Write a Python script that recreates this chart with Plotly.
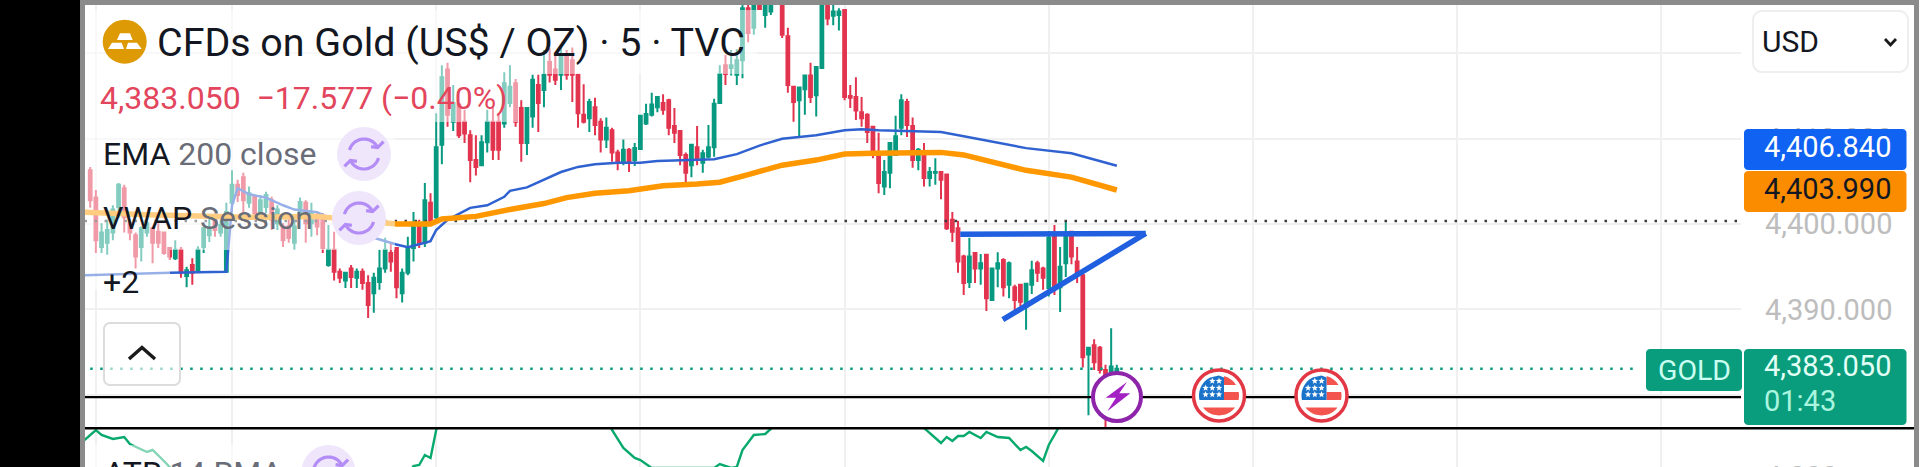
import math
import plotly.graph_objects as go

W, H = 1920, 467

candle_index = list(range(182))
open_prices = [
 4406.3,4403.1,4397.3,4397.8,4399.0,4402.0,4404.2,4400.1,4398.7,4397.3,4399.0,4399.5,4399.1,4399.0,4397.2,4396.0,4397.0,4393.9,4395.2,4394.4,
 4397.3,4398.7,4400.5,4399.0,4394.4,4402.5,4404.6,4405.5,4402.5,4403.2,4400.8,4402.0,4402.8,4400.1,4399.7,4399.7,4397.8,4401.3,4402.5,4400.1,
 4401.1,4400.8,4395.2,4397.0,4394.4,4393.4,4394.8,4393.7,4394.4,4393.1,4391.9,4393.2,4394.8,4396.6,4397.2,4391.9,4394.3,4397.2,4399.9,4397.8,
 4402.5,4400.8,4409.3,4418.1,4412.0,4414.0,4412.0,4410.4,4407.5,4406.9,4409.6,4412.0,4412.0,4411.8,4414.2,4416.5,4413.6,4409.5,4412.6,4416.3,
 4415.7,4419.0,4418.1,4417.5,4419.8,4419.2,4417.5,4412.8,4412.4,4413.7,4412.0,4409.9,4411.0,4408.4,4407.3,4408.7,4407.5,4408.8,4411.8,4412.8,
 4413.7,4414.2,4414.5,4411.5,4410.9,4408.1,4406.9,4409.0,4407.2,4407.9,4409.0,4414.2,4418.6,4418.3,4417.5,4419.2,4425.3,4423.0,4426.6,4424.5,
 4424.9,4427.0,4426.5,4422.0,4416.1,4414.5,4415.8,4417.4,4415.1,4418.3,4426.8,4424.4,4424.5,4425.1,4415.0,4414.9,4413.1,4412.8,4411.4,4408.1,
 4404.4,4406.0,4408.1,4411.3,4414.3,4411.5,4407.5,4408.4,4405.4,4406.0,4406.1,4405.8,4400.5,4399.5,4396.2,4393.2,4396.6,4394.8,4396.4,4391.1,
 4394.8,4395.8,4392.9,4392.6,4392.9,4390.3,4392.9,4395.4,4394.8,4392.5,4398.7,4392.6,4395.4,4399.1,4395.6,4394.0,4384.7,4385.8,4385.5,4382.9,
 4382.7,4382.7]
close_prices = [
 4402.8,4398.1,4399.0,4399.3,4401.7,4404.6,4400.8,4399.0,4396.2,4399.5,4400.1,4397.8,4397.8,4396.6,4396.2,4397.0,4394.3,4394.6,4394.3,4397.0,
 4399.5,4399.5,4399.3,4399.9,4401.4,4404.6,4403.4,4402.8,4403.6,4401.3,4402.8,4403.4,4400.5,4401.7,4398.1,4398.4,4399.7,4402.6,4400.1,4401.3,
 4399.7,4397.2,4397.0,4394.4,4393.7,4394.3,4393.8,4394.4,4393.1,4390.5,4393.7,4394.8,4397.0,4395.6,4392.6,4394.3,4397.3,4400.1,4397.8,4402.8,
 4400.2,4409.0,4417.2,4412.8,4414.2,4410.4,4410.6,4407.5,4406.7,4409.6,4412.0,4408.7,4408.7,4416.5,4416.1,4412.0,4409.5,4413.6,4416.9,4414.2,
 4417.5,4417.5,4416.9,4419.6,4417.5,4417.5,4413.0,4412.0,4414.3,4411.6,4409.9,4411.3,4408.4,4407.3,4408.7,4407.2,4408.9,4412.7,4412.9,4414.0,
 4414.9,4413.4,4411.3,4410.7,4408.1,4406.0,4409.3,4407.5,4408.3,4409.0,4414.1,4417.6,4417.6,4418.6,4419.2,4425.3,4422.4,4426.0,4425.2,4426.3,
 4426.3,4428.0,4422.2,4416.3,4414.3,4416.0,4417.4,4414.9,4418.4,4427.4,4424.1,4424.9,4424.9,4414.9,4414.8,4413.3,4412.4,4410.8,4408.1,4404.8,
 4406.1,4409.5,4410.3,4414.5,4411.6,4407.5,4408.7,4405.4,4406.1,4406.1,4405.2,4399.5,4399.1,4395.6,4393.1,4396.2,4394.8,4395.4,4391.3,4394.8,
 4395.4,4392.6,4395.4,4391.1,4390.9,4393.0,4394.6,4394.3,4393.7,4398.4,4392.5,4395.0,4399.0,4396.2,4394.3,4384.4,4385.5,4383.8,4382.9,4382.0,
 4383.3,4383.05]
high_prices = [
 4406.7,4404.0,4400.1,4400.5,4402.2,4404.8,4404.6,4400.5,4399.0,4399.7,4400.5,4399.7,4400.1,4399.1,4397.3,4398.1,4397.3,4395.0,4396.0,4397.4,
 4399.7,4400.8,4400.8,4400.5,4402.5,4406.3,4405.2,4406.0,4404.4,4403.4,4403.4,4403.8,4403.2,4402.2,4400.1,4400.7,4401.1,4403.1,4402.8,4402.5,
 4401.4,4401.3,4399.9,4399.1,4394.8,4394.4,4395.2,4394.8,4394.8,4394.0,4394.3,4397.0,4398.4,4397.8,4397.3,4394.8,4398.5,4401.4,4400.5,4404.8,
 4403.6,4413.0,4418.6,4418.9,4416.3,4414.2,4413.4,4411.0,4410.4,4410.4,4413.4,4413.7,4413.0,4417.8,4418.6,4417.0,4414.5,4413.6,4417.5,4417.5,
 4420.4,4420.6,4420.2,4420.7,4420.4,4420.7,4417.5,4416.4,4414.7,4414.8,4412.4,4412.5,4411.3,4408.7,4409.9,4408.9,4409.5,4412.8,4414.1,4415.4,
 4415.0,4415.2,4414.7,4413.6,4411.0,4408.4,4409.4,4411.5,4408.7,4411.6,4414.7,4418.6,4419.8,4420.4,4420.5,4426.8,4426.3,4426.6,4427.2,4426.8,
 4426.8,4428.6,4427.4,4423.0,4416.2,4416.1,4417.5,4418.9,4418.5,4428.6,4427.4,4426.8,4425.3,4425.2,4416.3,4417.2,4414.9,4413.0,4411.5,4410.7,
 4407.5,4409.5,4412.7,4415.2,4414.7,4412.5,4408.9,4409.5,4406.7,4407.7,4406.2,4405.9,4401.4,4400.4,4396.4,4398.4,4396.6,4396.5,4396.5,4394.8,
 4396.7,4396.0,4395.6,4392.9,4393.0,4393.1,4395.7,4395.7,4395.0,4399.2,4399.9,4397.3,4400.4,4399.2,4397.3,4394.6,4385.6,4386.5,4385.7,4383.5,
 4387.8,4383.5]
low_prices = [
 4401.9,4396.6,4396.6,4396.4,4398.1,4400.7,4399.0,4398.1,4394.8,4395.6,4398.5,4395.4,4397.2,4396.4,4395.8,4395.8,4393.7,4392.6,4392.9,4394.3,
 4396.6,4397.9,4398.5,4398.5,4394.3,4401.4,4402.6,4401.3,4401.9,4400.5,4400.5,4401.3,4399.3,4399.3,4397.3,4397.8,4397.0,4400.7,4397.8,4398.5,
 4398.7,4396.6,4395.0,4393.4,4393.1,4392.5,4392.5,4392.5,4392.3,4389.0,4389.6,4392.3,4394.3,4394.4,4391.3,4390.8,4394.0,4395.6,4397.2,4397.3,
 4400.1,4400.2,4407.0,4411.4,4410.9,4410.1,4409.5,4404.9,4405.7,4406.8,4408.4,4407.5,4407.5,4411.3,4413.7,4411.4,4407.3,4408.1,4411.3,4410.8,
 4413.7,4416.6,4416.3,4415.7,4416.9,4414.3,4411.3,4411.8,4410.8,4410.4,4408.4,4408.9,4407.3,4406.3,4406.9,4406.1,4406.8,4408.7,4411.6,4412.6,
 4413.1,4412.8,4410.4,4409.5,4406.9,4404.8,4405.5,4406.9,4406.0,4407.7,4407.9,4414.2,4416.3,4417.4,4416.3,4417.1,4421.3,4422.2,4425.1,4423.0,
 4424.5,4426.5,4421.8,4415.4,4412.0,4410.2,4412.8,4414.2,4412.6,4418.3,4423.3,4423.3,4422.7,4414.5,4413.6,4412.2,4411.4,4409.5,4407.7,4403.6,
 4403.4,4404.2,4408.1,4410.4,4410.2,4406.6,4406.3,4404.4,4404.4,4404.6,4402.9,4399.3,4397.9,4394.3,4391.7,4392.5,4393.1,4392.9,4389.8,4391.1,
 4392.6,4391.5,4391.3,4389.7,4390.3,4387.6,4391.8,4393.2,4392.3,4391.5,4391.7,4389.7,4393.8,4395.3,4393.1,4383.2,4377.6,4382.9,4382.5,4376.1,
 4382.0,4382.3]

ema_index = [-1,14,24,25,26,28,31,34,36,40,43,47,50,54,56,59,60,61,63,67,70,73,74,77,79,83,86,89,93,97,100,104,110,114,118,122,125,128,133,136,139,145,150,154,160,165,173,177,181]
ema_values = [4394.0,4394.3,4394.4,4402.2,4404.2,4403.5,4403.1,4402.2,4401.7,4401.4,4400.5,4399.3,4398.4,4397.6,4397.3,4397.8,4398.0,4399.3,4400.5,4401.9,4402.2,4403.2,4403.9,4404.3,4404.9,4406.1,4406.7,4407.0,4407.2,4407.2,4407.4,4407.5,4407.6,4408.2,4409.2,4410.0,4410.2,4410.4,4411.0,4411.1,4411.0,4410.9,4410.8,4410.3,4409.5,4408.9,4408.3,4407.6,4406.84]
vwap_index = [-1,10,28,40,54,60,62,68,74,80,84,89,95,101,107,111,116,122,128,133,138,145,150,154,160,165,173,177,181]
vwap_values = [4401.4,4401.1,4400.8,4400.9,4400.0,4400.0,4400.6,4400.9,4401.7,4402.4,4403.1,4403.6,4403.9,4404.5,4404.7,4404.9,4405.8,4406.9,4407.5,4408.2,4408.3,4408.4,4408.4,4408.1,4407.2,4406.3,4405.5,4404.8,4403.99]
atr_index = [-1,1,2,4,6,7,10,11,13,14,16,30,54,56,57,58,59,60,61,62,65,90,92,94,96,97,99,110,111,113,114,115,117,119,120,122,145,147,150,151,152,153,154,155,157,158,160,162,164,165,166,168,169,170,171,174,181]
atr_values = [5.52,5.92,5.72,5.56,5.64,5.36,5.04,5.12,4.68,4.44,4.12,3.6,3.6,4.12,4.48,4.52,4.92,4.8,5.92,6.52,7.12,7.12,5.92,5.2,4.8,4.72,4.4,4.4,4.56,4.4,4.44,5.12,5.72,5.76,5.96,6.52,6.52,6.0,5.4,5.64,5.48,5.68,5.68,5.84,5.6,5.84,5.64,5.6,5.12,5.24,5.08,4.68,5.32,5.72,6.12,6.52,6.52]

dotted_level = 4400.36
last_price = 4383.05
black_level = 4379.72
level_span = [-1, 292]
last_span = [0, 272]
flat_index = [153.4, 186.1]
flat_values = [4398.8, 4398.9]
rising_index = [160.9, 186.1]
rising_values = [4388.8, 4398.9]
grid_ticks = [1, 25, 61, 97, 133, 169, 205, 241, 277]
price_ticks = [4380, 4390, 4400, 4410, 4420]

X0, X1 = 85, 1741
x_range = [(X0 - 90.2) / 5.672, (X1 - 90.2) / 5.672]
TOP, PANE = 5, 428
y_range = [4426.26 - 0.1172 * PANE, 4426.26 - 0.1172 * TOP]

def fx(x): return x / W
def fy(y): return 1 - y / H
def path(points, close=True):
    s = "M" + " L".join(f"{fx(x):.6f},{fy(y):.6f}" for x, y in points)
    return s + (" Z" if close else "")
def arc(cx, cy, r, a0, a1, n=24):
    return [(cx + r * math.cos(math.radians(a0 + (a1 - a0) * k / n)),
             cy + r * math.sin(math.radians(a0 + (a1 - a0) * k / n))) for k in range(n + 1)]
def round_box(x0, y0, x1, y1, r):
    return arc(x0 + r, y0 + r, r, 180, 270, 6) + arc(x1 - r, y0 + r, r, 270, 360, 6) + \
           arc(x1 - r, y1 - r, r, 0, 90, 6) + arc(x0 + r, y1 - r, r, 90, 180, 6)
def disk_rect(cx, cy, r, x0, x1, y0, y1, n=12):
    left, right = [], []
    for k in range(n + 1):
        y = y0 + (y1 - y0) * k / n
        d = math.sqrt(max(r * r - (y - cy) ** 2, 0))
        a, b = max(cx - d, x0), min(cx + d, x1)
        if b < a:
            continue
        left.append((a, y)); right.append((b, y))
    return right + left[::-1]
def star(cx, cy, r):
    return [(cx + (r if k % 2 == 0 else r * 0.42) * math.sin(math.pi * k / 5),
             cy - (r if k % 2 == 0 else r * 0.42) * math.cos(math.pi * k / 5)) for k in range(10)]

shapes = []
def add_path(points, fill=None, color=None, width=0, close=True, opacity=None):
    d = dict(type="path", xref="paper", yref="paper", layer="above", path=path(points, close),
             line=dict(color=color or "rgba(0,0,0,0)", width=width))
    if fill: d["fillcolor"] = fill
    if opacity is not None: d["opacity"] = opacity
    shapes.append(d)
def add_rect(x0, y0, x1, y1, fill, opacity=None):
    d = dict(type="rect", xref="paper", yref="paper", layer="above", x0=fx(x0), x1=fx(x1), y0=fy(y0), y1=fy(y1),
             fillcolor=fill, line=dict(width=0))
    if opacity is not None: d["opacity"] = opacity
    shapes.append(d)
def add_circle(cx, cy, r, fill, color=None, width=0):
    shapes.append(dict(type="circle", xref="paper", yref="paper", layer="above",
                       x0=fx(cx - r), x1=fx(cx + r), y0=fy(cy + r), y1=fy(cy - r), fillcolor=fill,
                       line=dict(color=color or "rgba(0,0,0,0)", width=width)))

# translucent legend backdrops
for box in [(85, 10, 757, 74), (85, 74, 518, 122), (85, 122, 395, 250), (85, 250, 170, 290), (85, 445, 395, 467)]:
    add_rect(*box, "white", 0.5)

# frame
add_rect(0, 0, 80, H, "#000000")
add_rect(80, 0, 85, H, "#8b8b8b")
add_rect(80, 0, 1915, 5, "#8b8b8b")
add_rect(1914, 0, 1919, H, "#8b8b8b")
add_rect(85, 427, 1914, 429.5, "#000000")

# gold icon
add_circle(124.7, 41.7, 22, "#dd9a05")
add_path([(120, 33.3), (130, 33.3), (132.7, 40), (117, 40)], "white")
add_path([(112, 42.7), (121.7, 42.7), (124, 49), (108, 49)], "white")
add_path([(128, 42.7), (137, 42.7), (141.7, 49), (126, 49)], "white")

# refresh icons
for cx, cy in [(364, 154), (359, 218), (328.5, 472)]:
    add_circle(cx, cy, 27, "#efe6fb")
    for a0, a1, sign in [(195, 335, 1), (15, 155, -1)]:
        add_path(arc(cx, cy, 15, a0, a1), None, "#b48cf5", 3.2, close=False)
        ax, ay = cx + 15 * math.cos(math.radians(a1)), cy + 15 * math.sin(math.radians(a1))
        add_path([(ax + 6 * sign, ay - 6 * sign), (ax, ay), (ax - 6.5 * sign, ay - 1 * sign)], None, "#b48cf5", 3.2, close=False)

# chevron button
add_path(round_box(104, 323, 180, 385, 6), "rgba(255,255,255,0.6)", "#dcdcdc", 2)
add_path([(129, 359), (142, 347.5), (155, 359)], None, "#1a1a1a", 3.5, close=False)

# USD select
add_path(round_box(1753, 11, 1908, 72, 9), "white", "#eeeeee", 2)
add_path([(1885, 39), (1890.5, 45), (1896, 39)], None, "#1a1a1a", 2.8, close=False)

# lightning event
add_circle(1117, 397, 24, "white", "#8e24aa", 4)
add_path([(1127, 382), (1105.7, 397.7), (1116, 397.7), (1107.3, 411.3), (1130.3, 393.3), (1119.3, 393.3)], "#a322c4")

# US flag events
for cx in (1219, 1321.5):
    cy = 395.5
    add_circle(cx, cy, 25.5, "white", "#e23744", 3.5)
    add_path(disk_rect(cx, cy, 20, cx + 5, cx + 20, 375.5, 385), "#f4544e")
    add_path(disk_rect(cx, cy, 20, cx + 5, cx + 20, 392, 400), "#f4544e")
    add_path(disk_rect(cx, cy, 20, cx - 20, cx + 20, 407.5, 415.5), "#f4544e")
    add_path(disk_rect(cx, cy, 20, cx - 20, cx + 5, 375.5, 400), "#1a73c9")
    for row, cols in [(381, (0, -6.7)), (388, (0, -6.7, -13.4)), (394.5, (0, -6.7, -13.4))]:
        for c in cols:
            add_path(star(cx + c, row, 3.4), "white")

# price labels
add_path(round_box(1744, 129, 1906.5, 170, 4), "#0f62f2")
add_path(round_box(1744, 171, 1906.5, 212, 4), "#fb8c00")
add_path(round_box(1744, 349, 1906.5, 425, 4), "#099c7d")
add_path(round_box(1646, 349, 1742, 391, 4), "#099c7d")

def note(text, x, y, size=30, color="#131722", anchor="left"):
    return dict(text=text, x=fx(x), y=fy(y), xref="paper", yref="paper", xanchor=anchor, yanchor="middle",
                showarrow=False, font=dict(family="Roboto", size=size, color=color), borderpad=0, borderwidth=0)

GRAY = "#6a6d78"
annotations = [
    note("CFDs on Gold (US$ / OZ) · 5 · TVC", 157, 42, 39.4),
    note("4,383.050\u00a0\u00a0−17.577 (−0.40%)", 100, 98, 32, "#e2455c"),
    note(f'EMA <span style="color:{GRAY}">200 close</span>', 103, 154, 32),
    note(f'VWAP <span style="color:{GRAY}">Session</span>', 103, 218, 32),
    note("+2", 103, 282, 32),
    note(f'ATR <span style="color:{GRAY}">14 RMA</span>', 104, 473, 32),
    note("USD", 1762, 41, 30, "#131722"),
    note("4,406.840", 1764, 147, 29, "#ffffff"),
    note("4,403.990", 1764, 189, 29, "#131722"),
    note("4,383.050", 1764, 366, 29, "#e2fff6"),
    note("01:43", 1764, 401, 29, "#a9f5df"),
    note("GOLD", 1694, 370, 28.5, "#c9fff0", "center"),
    note("4.000", 1765, 477, 29, "#bdbdbd"),
]

traces = [
    go.Scatter(x=level_span, y=[black_level, black_level], mode="lines", line=dict(color="#000000", width=2.2), hoverinfo="skip"),
    go.Scatter(x=level_span, y=[dotted_level, dotted_level], mode="lines", line=dict(color="#3c3c3c", width=2.5, dash="2.5px,7.5px"), hoverinfo="skip"),
    go.Scatter(x=last_span, y=[last_price, last_price], mode="lines", line=dict(color="#089981", width=2.5, dash="2.5px,7.5px"), hoverinfo="skip"),
    go.Scatter(x=ema_index, y=ema_values, mode="lines", line=dict(color="#2f62d0", width=2.5), hoverinfo="skip"),
    go.Scatter(x=vwap_index, y=vwap_values, mode="lines", line=dict(color="#ff9800", width=5.5), hoverinfo="skip"),
    go.Candlestick(x=candle_index, open=open_prices, high=high_prices, low=low_prices, close=close_prices,
                   increasing=dict(line=dict(color="#089981", width=2), fillcolor="#089981"),
                   decreasing=dict(line=dict(color="#e2344f", width=2), fillcolor="#e2344f"),
                   whiskerwidth=0, hoverinfo="skip"),
    go.Scatter(x=flat_index, y=flat_values, mode="lines", line=dict(color="#1f5fe0", width=5.5), hoverinfo="skip"),
    go.Scatter(x=rising_index, y=rising_values, mode="lines", line=dict(color="#1f5fe0", width=5.5), hoverinfo="skip"),
    go.Scatter(x=atr_index, y=atr_values, mode="lines", line=dict(color="#08a96c", width=2.4), xaxis="x2", yaxis="y2", hoverinfo="skip"),
]

fig = go.Figure(traces)
GRID = "#f0f0f0"
fig.update_layout(
    width=W, height=H, margin=dict(l=0, r=0, t=0, b=0), autosize=False,
    paper_bgcolor="white", plot_bgcolor="white", showlegend=False, hovermode=False,
    shapes=shapes, annotations=annotations,
    xaxis=dict(domain=[fx(X0), fx(X1)], range=x_range, rangeslider=dict(visible=False), showticklabels=False,
               tickvals=grid_ticks, ticks="", showgrid=True, gridcolor=GRID, gridwidth=2, zeroline=False, showline=False, anchor="y"),
    yaxis=dict(domain=[fy(PANE), fy(TOP)], range=y_range, side="right", anchor="x", tickvals=price_ticks, tickformat=",.3f",
               ticks="", ticklabelstandoff=23, tickfont=dict(family="Roboto", size=29, color="#bdbdbd"),
               showgrid=True, gridcolor=GRID, gridwidth=2, zeroline=False, showline=False),
    xaxis2=dict(domain=[fx(X0), fx(X1)], range=x_range, showticklabels=False, tickvals=grid_ticks, ticks="",
                showgrid=True, gridcolor=GRID, gridwidth=2, zeroline=False, showline=False, anchor="y2"),
    yaxis2=dict(domain=[0, fy(PANE)], range=[4.44, 6.0], showticklabels=False, ticks="", showgrid=False,
                zeroline=False, showline=False, anchor="x2"),
)
fig.write_html("out.html", config=dict(displayModeBar=False),
               post_script="document.body.style.margin='0';document.body.style.overflow='hidden';")
